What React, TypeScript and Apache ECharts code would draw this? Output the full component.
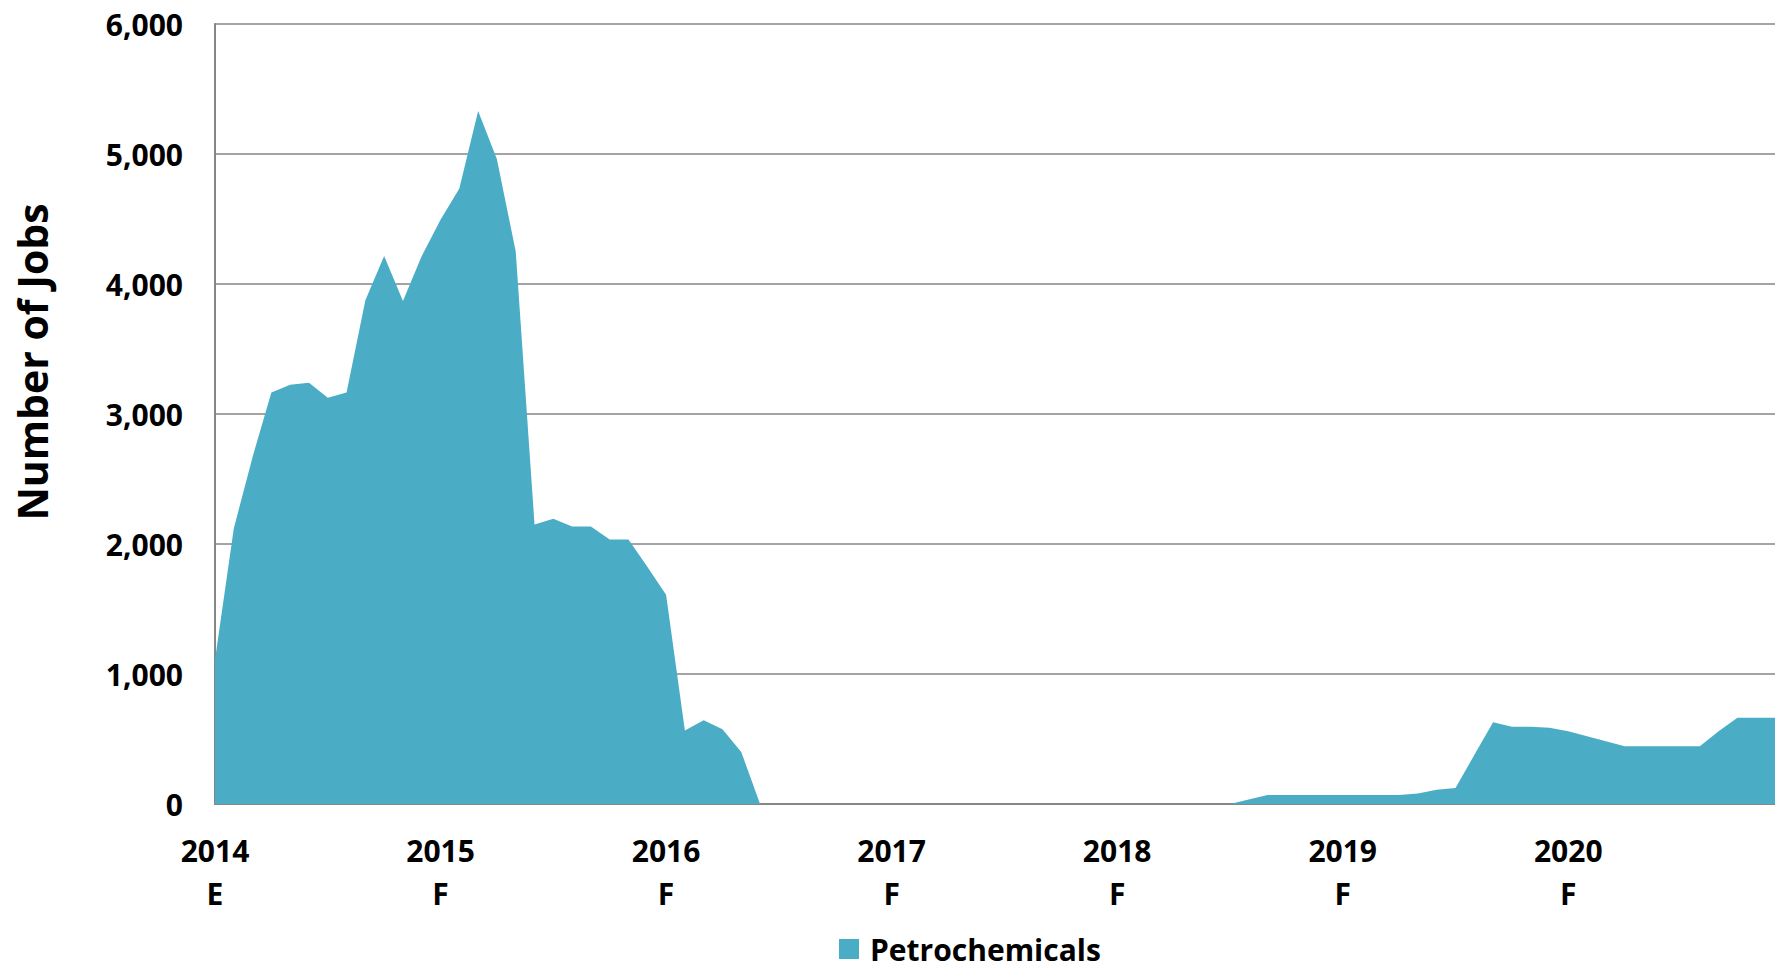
import React, { useEffect, useRef } from "react";
import * as echarts from "echarts";

// Monthly categories Jan 2014 – Dec 2020
const years = [2014, 2015, 2016, 2017, 2018, 2019, 2020];
const yearSuffix = ["E", "F", "F", "F", "F", "F", "F"];
const months = years.flatMap((y) =>
  Array.from({ length: 12 }, (_, m) => `${y}-${String(m + 1).padStart(2, "0")}`)
);

// Petrochemicals jobs, one value per month
const jobs2014 = [1110, 2120, 2670, 3165, 3225, 3240, 3125, 3165, 3875, 4215, 3870, 4215];
const jobs2015 = [4495, 4735, 5330, 4960, 4250, 2150, 2195, 2135, 2135, 2035, 2035, 1825];
const jobs2016 = [1610, 565, 645, 575, 400, 0, 0, 0, 0, 0, 0, 0];
const jobs2017 = [0, 0, 0, 0, 0, 0, 0, 0, 0, 0, 0, 0];
const jobs2018 = [0, 0, 0, 0, 0, 0, 0, 35, 69, 69, 69, 69];
const jobs2019 = [69, 69, 69, 69, 80, 110, 123, 376, 628, 594, 594, 586];
const jobs2020 = [560, 522, 483, 445, 445, 445, 445, 445, 560, 663, 663, 663];
const petrochemicals = [
  ...jobs2014, ...jobs2015, ...jobs2016, ...jobs2017, ...jobs2018, ...jobs2019, ...jobs2020,
];

const yTicks = { min: 0, max: 6000, interval: 1000 };

const FONT = "'Open Sans', 'Noto Sans', sans-serif";
const AREA = "#4BACC6";
const GRID = "#868686";

export default function App() {
  const ref = useRef<HTMLDivElement>(null);

  useEffect(() => {
    if (!ref.current) return;
    const chart = echarts.init(ref.current, null, { renderer: "svg" });
    chart.setOption({
      animation: false,
      backgroundColor: "#ffffff",
      textStyle: { fontFamily: FONT },
      grid: { left: 215, right: 0, top: 24, bottom: 164, containLabel: false },
      legend: {
        data: ["Petrochemicals"],
        left: 834,
        top: 929,
        icon: "rect",
        itemWidth: 20,
        itemHeight: 20,
        textStyle: {
          fontFamily: FONT,
          fontWeight: "bold",
          fontSize: 30,
          color: "#000",
          padding: [0, 0, 0, 6],
        },
      },
      xAxis: {
        type: "category",
        data: months,
        boundaryGap: false,
        axisLine: { show: true, lineStyle: { color: GRID, width: 2 } },
        axisTick: { show: false },
        splitLine: { show: false },
        axisLabel: {
          interval: (i: number) => i % 12 === 0,
          margin: 25,
          fontFamily: FONT,
          fontWeight: "bold",
          fontSize: 30,
          lineHeight: 43,
          color: "#000",
          formatter: (_v: string, i: number) => {
            const k = Math.floor(i / 12);
            return `${years[k]}\n${yearSuffix[k]}`;
          },
        },
      },
      yAxis: {
        type: "value",
        min: yTicks.min,
        max: yTicks.max,
        interval: yTicks.interval,
        axisLine: { show: true, lineStyle: { color: GRID, width: 2 } },
        axisTick: { show: false },
        splitLine: { show: true, lineStyle: { color: GRID, width: 1.5 } },
        axisLabel: {
          margin: 32,
          fontFamily: FONT,
          fontWeight: "bold",
          fontSize: 30,
          color: "#000",
          formatter: (v: number) => v.toLocaleString("en-US"),
        },
      },
      graphic: [
        {
          type: "text",
          x: 32,
          y: 362,
          rotation: Math.PI / 2,
          style: {
            text: "Number of Jobs",
            fontFamily: FONT,
            fontWeight: "bold",
            fontSize: 41,
            fill: "#000",
            textAlign: "center",
            textVerticalAlign: "middle",
          },
        },
      ],
      series: [
        {
          name: "Petrochemicals",
          type: "line",
          data: petrochemicals,
          symbol: "none",
          lineStyle: { width: 0, color: AREA },
          itemStyle: { color: AREA },
          areaStyle: { color: AREA, opacity: 1 },
        },
      ],
    });
    return () => chart.dispose();
  }, []);

  return (
    <div
      ref={ref}
      style={{ position: "fixed", left: 0, top: 0, width: 1775, height: 968 }}
    />
  );
}
